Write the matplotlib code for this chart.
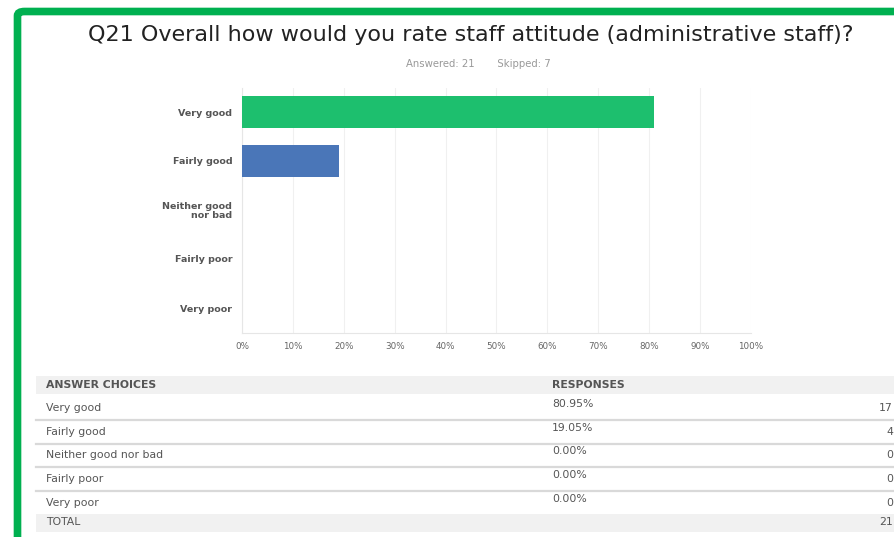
import matplotlib.pyplot as plt
from matplotlib.patches import Rectangle, FancyBboxPatch

# survey data
choices = ["Very good", "Fairly good", "Neither good nor bad", "Fairly poor", "Very poor"]
axis_labels = ["Very good", "Fairly good", "Neither good\nnor bad", "Fairly poor", "Very poor"]
percents = [80.95, 19.05, 0.00, 0.00, 0.00]
counts = [17, 4, 0, 0, 0]
bar_colors = ["#1dbf6e", "#4a76b8", "#4a76b8", "#4a76b8", "#4a76b8"]
answered, skipped = 21, 7
ticks = [0, 10, 20, 30, 40, 50, 60, 70, 80, 90, 100]

W, H = 895, 537
fig = plt.figure(figsize=(W / 100, H / 100), dpi=100)
fig.patch.set_facecolor("white")


def fx(px):
    return px / W


def fy(py):
    return 1 - py / H


# green frame around the slide
frame = FancyBboxPatch((fx(17.5), fy(560)), fx(920), fy(11.5) - fy(560),
                       boxstyle="round,pad=0,rounding_size=0.008",
                       transform=fig.transFigure, fill=False,
                       edgecolor="#00b050", linewidth=5.5, zorder=10)
fig.patches.append(frame)

# title and sub-header
fig.text(fx(471), fy(35), "Q21 Overall how would you rate staff attitude (administrative staff)?",
         ha="center", va="center", fontsize=16, color="#222222", family="DejaVu Sans")
fig.text(fx(478), fy(64), f"Answered: {answered}       Skipped: {skipped}",
         ha="center", va="center", fontsize=7.3, color="#999999", family="DejaVu Sans")

# bar chart
ax = fig.add_axes([fx(242), fy(332.5), fx(751) - fx(242), fy(87.5) - fy(332.5)])
ypos = list(range(len(choices)))
ax.barh(ypos, percents, height=0.67, color=bar_colors, zorder=3)
ax.set_ylim(len(choices) - 0.5, -0.5)
ax.set_xlim(0, 100)
ax.set_yticks(ypos)
ax.set_yticklabels(axis_labels, fontsize=6.8, color="#555555", fontweight="bold",
                   family="DejaVu Sans", linespacing=0.95)
ax.set_xticks(ticks)
ax.set_xticklabels([f"{t}%" for t in ticks], fontsize=6.3, color="#666666", family="DejaVu Sans")
ax.tick_params(length=0, pad=7)
ax.tick_params(axis="y", pad=7)
ax.grid(axis="x", color="#f0f0f0", linewidth=0.8, zorder=0)
for side in ["top", "right"]:
    ax.spines[side].set_visible(False)
ax.spines["left"].set_color("#e6e6e6")
ax.spines["bottom"].set_color("#e6e6e6")

# response table
tbl_left, tbl_right = 36, 898
header_top, header_bot = 376, 394
row_y = [408, 432, 455, 479, 503]
sep_y = [420, 444, 467, 491]

fig.patches.append(Rectangle((fx(tbl_left), fy(header_bot)), fx(tbl_right) - fx(tbl_left),
                             fy(header_top) - fy(header_bot), transform=fig.transFigure,
                             facecolor="#f1f1f1", edgecolor="none"))
fig.patches.append(Rectangle((fx(tbl_left), fy(532)), fx(tbl_right) - fx(tbl_left),
                             fy(514) - fy(532), transform=fig.transFigure,
                             facecolor="#f1f1f1", edgecolor="none"))
for s in sep_y:
    fig.add_artist(plt.Line2D([fx(tbl_left), fx(tbl_right)], [fy(s), fy(s)],
                              transform=fig.transFigure, color="#d9d9d9", linewidth=1.6))

txt = dict(fontsize=7.8, color="#555555", family="DejaVu Sans", va="center")
fig.text(fx(46), fy(385), "ANSWER CHOICES", fontweight="bold", **txt)
fig.text(fx(552), fy(385), "RESPONSES", fontweight="bold", **txt)
for yy, name, pct, n in zip(row_y, choices, percents, counts):
    fig.text(fx(46), fy(yy), name, **txt)
    fig.text(fx(552), fy(yy - 4), f"{pct:.2f}%", **txt)
    fig.text(fx(893), fy(yy), str(n), ha="right", **txt)
fig.text(fx(46), fy(522), "TOTAL", **txt)
fig.text(fx(893), fy(522), str(sum(counts)), ha="right", **txt)

fig.savefig("out.png", dpi=100)
